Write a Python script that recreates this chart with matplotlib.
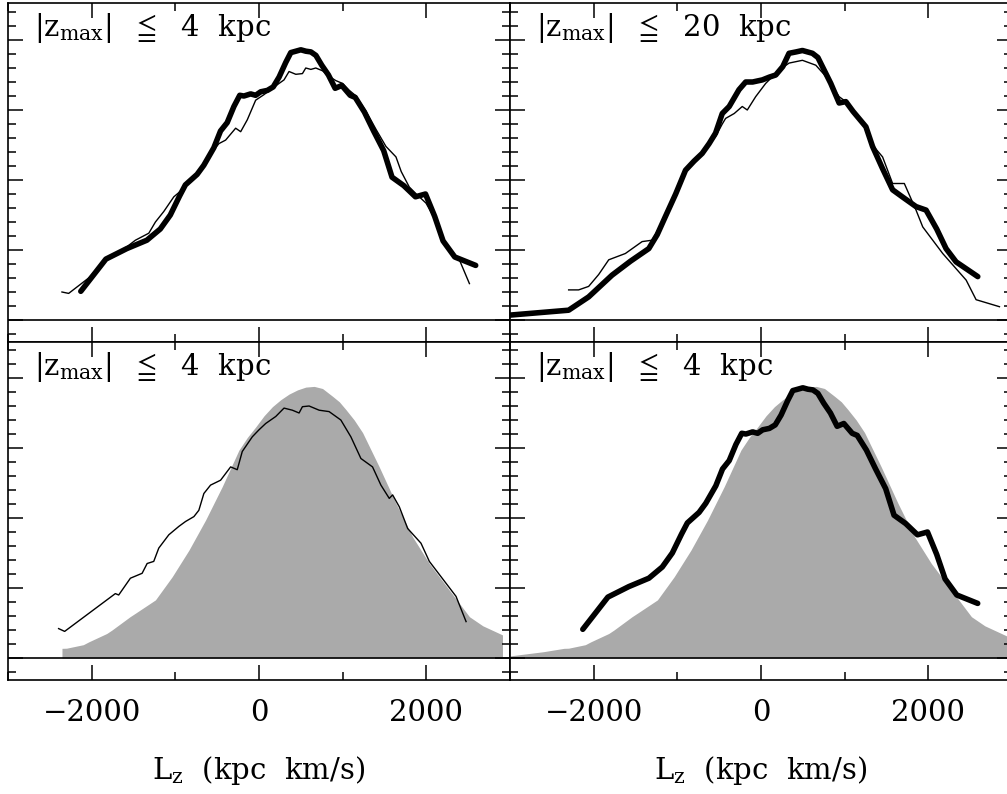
import numpy as np
import matplotlib
matplotlib.use("Agg")
import matplotlib.pyplot as plt
from matplotlib.ticker import MultipleLocator

plt.rcParams['font.family'] = ['DejaVu Serif', 'DejaVu Sans']
plt.rcParams['mathtext.fontset'] = 'dejavuserif'

# ---------------- data ----------------
thick4_x = [-2130,-1830,-1580,-1340,-1180,-1060,-950,-880,-740,-660,-540,-460,-380,-300,-230,-180,-100,-40,20,100,170,240,320,380,440,500,560,620,680,750,830,910,990,1090,1150,1260,1370,1490,1590,1730,1870,1990,2100,2200,2340,2590]
thick4_y = [0.41,0.87,1.02,1.14,1.30,1.50,1.77,1.93,2.08,2.21,2.46,2.70,2.82,3.05,3.21,3.20,3.23,3.21,3.26,3.28,3.33,3.47,3.68,3.82,3.84,3.86,3.84,3.83,3.78,3.64,3.50,3.31,3.35,3.21,3.18,2.97,2.70,2.42,2.04,1.92,1.76,1.80,1.48,1.13,0.90,0.78]

thin4a_x = [-2355,-2275,-2036,-1836,-1597,-1477,-1317,-1238,-1138,-1018,-918,-800,-679,-560,-479,-399,-279,-219,-140,-40,60,160,240,299,359,440,519,559,620,679,760,838,918,998,1080,1160,1280,1400,1517,1637,1700,1796,1880,1996,2100,2196,2300,2395,2515]
thin4a_y = [0.40,0.38,0.60,0.86,1.03,1.14,1.24,1.40,1.55,1.76,1.86,2.02,2.19,2.40,2.52,2.57,2.74,2.69,2.86,3.14,3.22,3.31,3.38,3.43,3.55,3.51,3.52,3.60,3.58,3.60,3.56,3.48,3.42,3.38,3.28,3.20,2.98,2.72,2.48,2.33,2.12,1.90,1.80,1.67,1.45,1.10,0.98,0.86,0.52]

thick20_x = [-3000,-2299,-2060,-1781,-1560,-1341,-1240,-1142,-1020,-902,-800,-703,-620,-543,-463,-380,-263,-183,-100,16,100,176,260,335,420,495,615,680,734,834,934,1014,1100,1254,1333,1450,1573,1700,1853,1973,2100,2212,2332,2591]
thick20_y = [0.07,0.14,0.33,0.64,0.84,1.02,1.22,1.48,1.80,2.14,2.27,2.38,2.52,2.67,2.95,3.05,3.29,3.40,3.40,3.43,3.47,3.50,3.62,3.81,3.83,3.85,3.81,3.75,3.62,3.38,3.10,3.12,2.98,2.76,2.48,2.17,1.86,1.75,1.62,1.57,1.30,1.02,0.83,0.62]

thin20_x = [-2299,-2180,-2060,-1940,-1820,-1621,-1421,-1301,-1142,-902,-703,-543,-463,-423,-320,-224,-164,-64,56,216,335,495,655,760,934,1014,1254,1333,1453,1573,1713,1853,1933,2172,2452,2571,2850]
thin20_y = [0.43,0.43,0.48,0.65,0.86,0.95,1.12,1.14,1.48,2.14,2.38,2.62,2.80,2.88,2.95,3.05,3.00,3.19,3.38,3.57,3.67,3.71,3.64,3.50,3.19,3.12,2.76,2.50,2.33,1.95,1.95,1.57,1.33,0.95,0.57,0.29,0.19]

thin4b_x = [-2395,-2323,-1717,-1677,-1537,-1397,-1337,-1258,-1198,-1078,-958,-878,-778,-719,-659,-579,-459,-339,-260,-200,-80,0,80,200,299,399,479,519,599,719,838,978,1098,1218,1357,1457,1557,1597,1677,1777,1936,2036,2355,2475]
thin4b_y = [0.42,0.38,0.92,0.90,1.14,1.21,1.35,1.38,1.57,1.76,1.88,1.95,2.02,2.11,2.35,2.47,2.54,2.73,2.69,2.95,3.16,3.26,3.35,3.45,3.57,3.54,3.50,3.59,3.60,3.54,3.52,3.40,3.16,2.85,2.73,2.47,2.28,2.33,2.16,1.85,1.64,1.38,0.88,0.52]

gray_x = [-3000,-2600,-2355,-2300,-2100,-2036,-1820,-1757,-1541,-1477,-1238,-1038,-838,-639,-439,-240,-140,-40,60,160,260,359,460,559,660,759,878,960,1038,1138,1238,1437,1637,1836,2036,2275,2515,2675,2910,3000]
gray_y = [0.03,0.09,0.138,0.14,0.19,0.23,0.35,0.40,0.59,0.64,0.83,1.16,1.54,1.97,2.45,2.97,3.15,3.30,3.46,3.59,3.69,3.77,3.83,3.87,3.88,3.85,3.74,3.66,3.55,3.40,3.22,2.73,2.21,1.73,1.35,0.97,0.59,0.46,0.33,0.28]
gray_bl_range = (-2355, 2910)

xticks = [-2000, 0, 2000]
xticklabels = ['\u22122000', '0', '2000']
labels = [r'$|\mathrm{z}_{\rm max}|\ \ \leqq\ \ \mathrm{4\ \ kpc}$',
          r'$|\mathrm{z}_{\rm max}|\ \ \leqq\ \ \mathrm{20\ \ kpc}$',
          r'$|\mathrm{z}_{\rm max}|\ \ \leqq\ \ \mathrm{4\ \ kpc}$',
          r'$|\mathrm{z}_{\rm max}|\ \ \leqq\ \ \mathrm{4\ \ kpc}$']
xlabel = r'$\rm L_z$  (kpc  km/s)'

# ---------------- figure ----------------
W, H = 1007, 794
fig = plt.figure(figsize=(W/100, H/100), dpi=100)

def mk(l, t, w, h):
    return fig.add_axes([l/W, (H - t - h)/H, w/W, h/H])

ax_tl = mk(8, 3, 502, 339)
ax_tr = mk(510, 3, 502, 339)
ax_bl = mk(8, 342, 502, 338)
ax_br = mk(510, 342, 502, 338)
axes = [ax_tl, ax_tr, ax_bl, ax_br]

thick_lw = 4.0
thin_lw = 1.0
gray = '#aaaaaa'

ax_tl.plot(thin4a_x, thin4a_y, color='black', lw=thin_lw, zorder=3)
ax_tl.plot(thick4_x, thick4_y, color='black', lw=thick_lw, zorder=4,
           solid_capstyle='round', solid_joinstyle='round')

ax_tr.plot(thin20_x, thin20_y, color='black', lw=thin_lw, zorder=3)
ax_tr.plot(thick20_x, thick20_y, color='black', lw=thick_lw, zorder=4,
           solid_capstyle='round', solid_joinstyle='round')

gx = np.array(gray_x, float)
gy = np.array(gray_y, float)
m = (gx >= gray_bl_range[0]) & (gx <= gray_bl_range[1])
ax_bl.fill_between(gx[m], 0, gy[m], color=gray, lw=0, zorder=1)
ax_bl.plot(thin4b_x, thin4b_y, color='black', lw=thin_lw, zorder=3)

ax_br.fill_between(gx, 0, gy, color=gray, lw=0, zorder=1)
ax_br.plot(thick4_x, thick4_y, color='black', lw=thick_lw, zorder=4,
           solid_capstyle='round', solid_joinstyle='round')

for i, ax in enumerate(axes):
    ax.set_xlim(-3000, 3000)
    if i < 2:
        ax.set_ylim(-22/70, 317/70)
    else:
        ax.set_ylim(-22/70, 316/70)
    ax.axhline(0, color='black', lw=1.2, zorder=2)
    ax.set_xticks(xticks)
    ax.xaxis.set_minor_locator(MultipleLocator(1000))
    ax.yaxis.set_major_locator(MultipleLocator(1))
    ax.yaxis.set_minor_locator(MultipleLocator(0.2))
    ax.tick_params(which='both', direction='in', top=True, right=True,
                   width=1.1, labelleft=False, color='black')
    ax.tick_params(which='major', length=11)
    ax.tick_params(which='minor', length=6)
    for s in ax.spines.values():
        s.set_linewidth(1.2)
    if i >= 2:
        ax.set_xticklabels(xticklabels)
        ax.tick_params(axis='x', labelsize=21, pad=14)
        ax.set_xlabel(xlabel, fontsize=21, labelpad=19)
    else:
        ax.tick_params(axis='x', labelbottom=False)
    ax.text(0.052, 0.975, labels[i], transform=ax.transAxes, fontsize=21,
            va='top', ha='left')

fig.savefig('out.png', dpi=100)
